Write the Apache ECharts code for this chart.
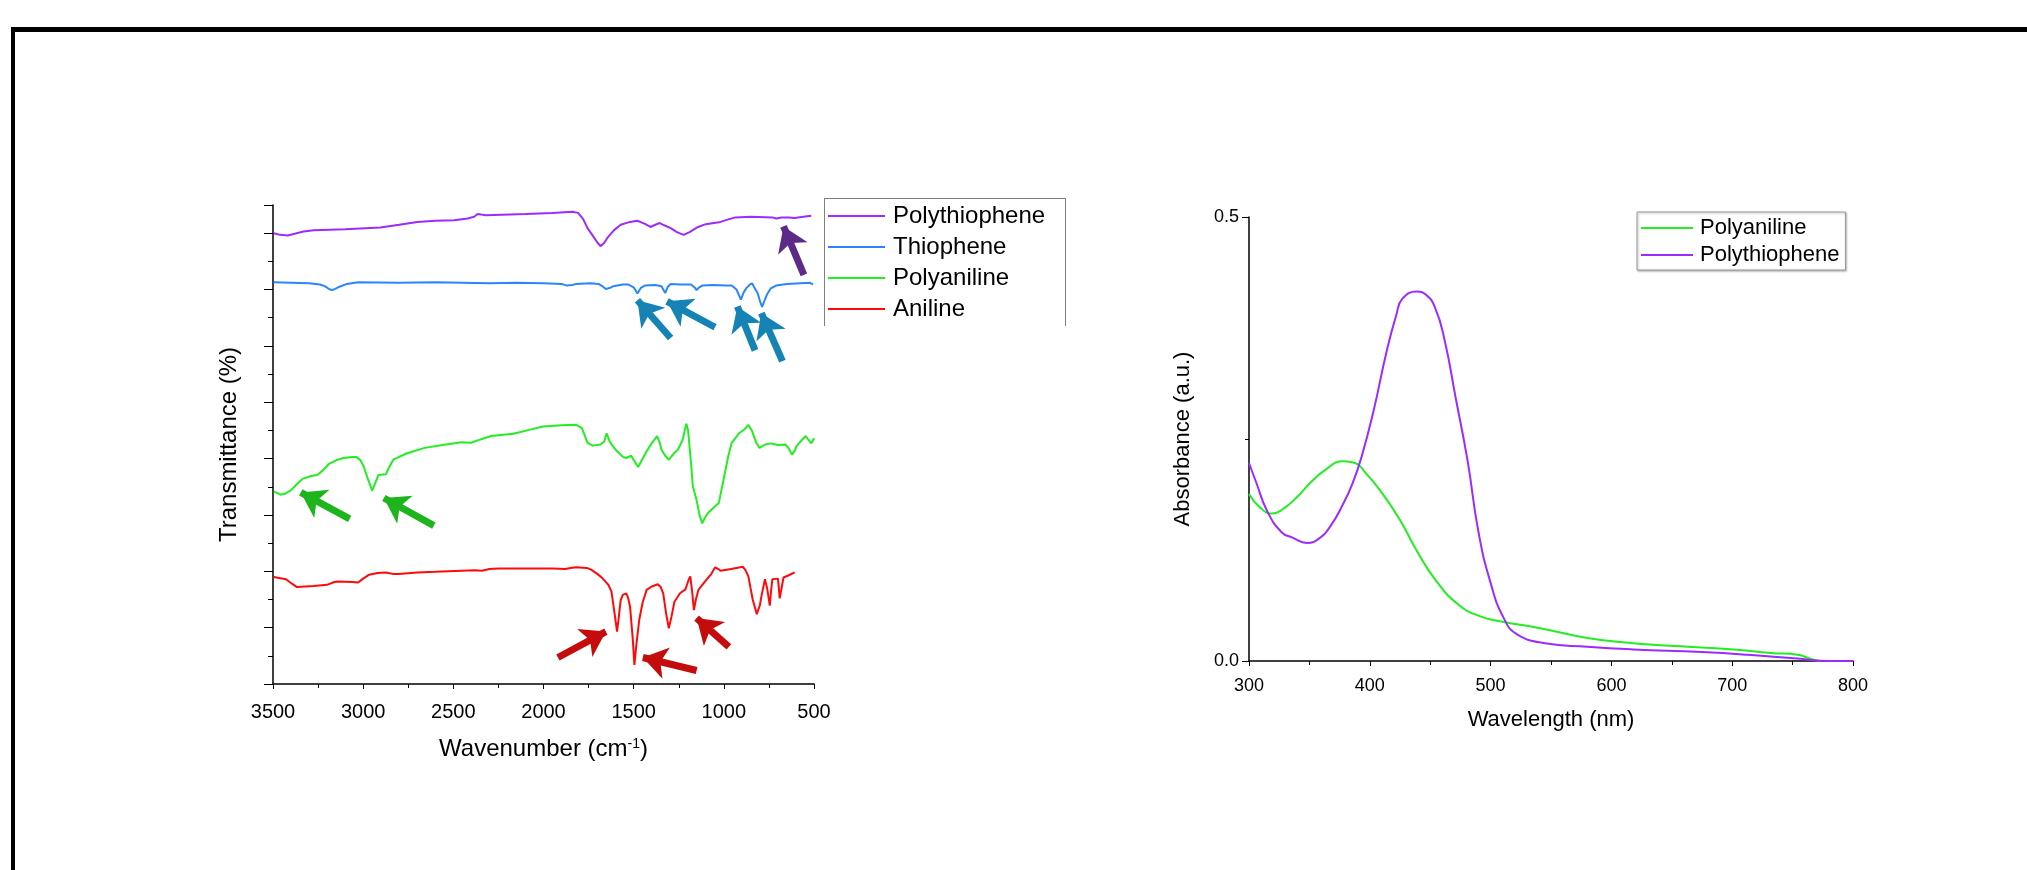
<!DOCTYPE html>
<html>
<head>
<meta charset="utf-8">
<title>FTIR and UV-Vis spectra</title>
<script src="https://cdn.jsdelivr.net/npm/echarts@6/dist/echarts.min.js"></script>
<style>
  body { margin: 0; background: #fff; }
  #frame { position: absolute; left: 11px; top: 27px; width: 2016px; height: 843px; border-top: 5px solid #000; border-left: 4px solid #000; box-sizing: border-box; }
  #chart { position: absolute; left: 0; top: 0; width: 2027px; height: 870px; }
  #irBox { position: absolute; left: 824px; top: 198px; width: 242px; height: 128px; border: 1px solid #808080; border-bottom: none; box-sizing: border-box; }
</style>
</head>
<body>
<div id="frame"></div>
<div id="chart"></div>
<div id="irBox"></div>
<script>
// FTIR spectra: [wavenumber (cm-1), transmittance offset units]
let polythiopheneIR = [[3496,8.00],[3460,7.97],[3418,7.96],[3380,7.99],[3330,8.03],[3274,8.05],[3100,8.07],[2905,8.10],[2800,8.15],[2700,8.20],[2600,8.22],[2495,8.23],[2420,8.26],[2385,8.29],[2365,8.34],[2345,8.33],[2320,8.32],[2100,8.34],[1950,8.36],[1840,8.38],[1808,8.36],[1780,8.25],[1756,8.09],[1730,7.97],[1700,7.83],[1684,7.77],[1665,7.82],[1645,7.92],[1610,8.05],[1572,8.15],[1520,8.20],[1480,8.22],[1440,8.17],[1407,8.11],[1380,8.15],[1356,8.18],[1330,8.14],[1295,8.09],[1260,8.02],[1223,7.97],[1190,8.02],[1150,8.10],[1100,8.16],[1018,8.20],[980,8.24],[936,8.28],[850,8.29],[730,8.28],[710,8.26],[680,8.28],[640,8.28],[607,8.27],[560,8.29],[515,8.31]];

let thiopheneIR = [[3496,7.13],[3400,7.12],[3300,7.11],[3240,7.09],[3213,7.06],[3185,7.00],[3172,6.99],[3150,7.02],[3131,7.05],[3090,7.10],[3028,7.13],[2800,7.12],[2600,7.13],[2454,7.12],[2300,7.11],[2150,7.12],[2000,7.11],[1900,7.10],[1870,7.07],[1859,7.06],[1840,7.08],[1818,7.10],[1740,7.11],[1695,7.10],[1670,7.05],[1654,7.01],[1630,7.03],[1613,7.06],[1560,7.09],[1531,7.09],[1500,7.04],[1479,6.93],[1460,7.03],[1438,7.07],[1380,7.08],[1346,7.06],[1325,6.94],[1310,7.05],[1295,7.10],[1240,7.09],[1182,7.09],[1160,7.03],[1151,6.99],[1140,7.03],[1120,7.07],[1060,7.08],[990,7.07],[956,7.07],[930,7.00],[905,6.82],[890,6.95],[874,7.03],[855,7.09],[843,7.11],[830,7.03],[813,6.94],[800,6.80],[788,6.69],[775,6.80],[761,6.91],[740,7.02],[710,7.07],[650,7.10],[525,7.12],[505,7.09]];

let polyanilineIR = [[3496,3.42],[3459,3.36],[3430,3.38],[3397,3.45],[3360,3.57],[3336,3.64],[3290,3.69],[3254,3.71],[3220,3.80],[3192,3.90],[3150,3.97],[3110,4.01],[3060,4.03],[3038,4.03],[3015,3.97],[2997,3.86],[2975,3.65],[2950,3.43],[2935,3.55],[2915,3.71],[2874,3.72],[2855,3.85],[2833,3.98],[2760,4.09],[2659,4.19],[2560,4.24],[2454,4.29],[2402,4.28],[2350,4.34],[2290,4.40],[2167,4.44],[2080,4.51],[2002,4.57],[1900,4.59],[1818,4.60],[1787,4.54],[1770,4.40],[1756,4.28],[1726,4.23],[1685,4.25],[1664,4.30],[1650,4.45],[1643,4.48],[1633,4.30],[1610,4.20],[1592,4.13],[1560,4.03],[1541,4.01],[1514,4.05],[1495,3.95],[1475,3.85],[1450,4.00],[1428,4.13],[1400,4.27],[1370,4.40],[1355,4.28],[1346,4.16],[1325,4.05],[1305,3.98],[1280,4.08],[1254,4.16],[1229,4.33],[1208,4.62],[1198,4.50],[1192,4.28],[1180,3.85],[1172,3.51],[1150,3.25],[1135,3.00],[1120,2.85],[1105,2.95],[1089,3.03],[1060,3.12],[1028,3.21],[1000,3.65],[975,4.05],[956,4.28],[915,4.45],[885,4.52],[864,4.60],[845,4.50],[820,4.28],[802,4.19],[770,4.25],[741,4.27],[700,4.24],[659,4.25],[640,4.18],[622,4.07],[605,4.15],[597,4.22],[570,4.32],[546,4.40],[530,4.33],[515,4.27],[499,4.36]];

let anilineIR = [[3496,1.90],[3428,1.86],[3395,1.78],[3367,1.72],[3320,1.73],[3274,1.74],[3200,1.76],[3160,1.81],[3141,1.82],[3060,1.81],[3028,1.80],[3000,1.87],[2967,1.94],[2920,1.97],[2874,1.98],[2830,1.95],[2803,1.95],[2700,1.98],[2600,1.99],[2454,2.01],[2380,2.02],[2341,2.01],[2300,2.04],[2249,2.05],[2100,2.05],[1950,2.05],[1879,2.04],[1850,2.06],[1818,2.07],[1760,2.06],[1736,2.03],[1700,1.95],[1674,1.88],[1640,1.76],[1623,1.64],[1608,1.30],[1592,0.93],[1582,1.20],[1572,1.49],[1560,1.58],[1541,1.61],[1530,1.52],[1520,1.37],[1505,0.80],[1496,0.34],[1485,0.70],[1469,1.14],[1450,1.45],[1428,1.67],[1400,1.73],[1366,1.77],[1350,1.72],[1336,1.61],[1320,1.25],[1305,0.99],[1290,1.20],[1274,1.46],[1243,1.61],[1213,1.68],[1195,1.85],[1186,1.91],[1176,1.65],[1166,1.31],[1155,1.50],[1141,1.67],[1104,1.82],[1070,1.95],[1048,2.07],[1030,2.04],[1018,2.01],[960,2.04],[894,2.08],[880,2.02],[864,1.91],[840,1.50],[817,1.24],[800,1.40],[792,1.55],[772,1.86],[760,1.70],[745,1.39],[738,1.65],[731,1.86],[700,1.87],[695,1.70],[690,1.52],[680,1.70],[669,1.89],[640,1.93],[607,1.98]];

// arrows on the FTIR plot: [tail x, tail y, head x, head y]
let purpleArrows = [[556, 7.26, 669, 8.12]];
let blueArrows = [[1295, 6.14, 1479, 6.81], [1049, 6.33, 1315, 6.79], [827, 5.92, 925, 6.70], [675, 5.73, 792, 6.58]];
let greenArrows = [[3075, 2.93, 3346, 3.40], [2608, 2.81, 2885, 3.30]];
let redArrows = [[1920, 0.47, 1654, 0.93], [1151, 0.24, 1449, 0.47], [972, 0.66, 1151, 1.17]];

// UV-Vis spectra: [wavelength (nm), absorbance]
let polyanilineUV = [[300,0.188],[309,0.173],[319,0.166],[328,0.171],[340,0.185],[351,0.201],[363,0.215],[378,0.225],[388,0.223],[397,0.211],[408,0.193],[424,0.161],[439,0.124],[454,0.092],[473,0.064],[492,0.050],[511,0.044],[541,0.037],[580,0.026],[618,0.020],[637,0.018],[663,0.016],[701,0.013],[732,0.009],[754,0.007],[766,0.002],[773,0]];
let polythiopheneUV = [[300,0.223],[306,0.201],[315,0.169],[327,0.145],[336,0.139],[348,0.133],[357,0.137],[367,0.151],[378,0.177],[386,0.201],[393,0.229],[403,0.281],[414,0.349],[422,0.390],[427,0.408],[439,0.416],[446,0.413],[454,0.398],[462,0.361],[471,0.297],[481,0.225],[490,0.145],[500,0.088],[511,0.048],[522,0.030],[545,0.020],[580,0.016],[618,0.013],[675,0.010],[713,0.007],[751,0.003],[781,0],[800,0]];

let irLegend = ['Polythiophene', 'Thiophene', 'Polyaniline', 'Aniline'];
let uvLegend = ['Polyaniline', 'Polythiophene'];

const FONT = 'Liberation Sans, Arial, sans-serif';
const PURPLE = '#9b2bff', BLUE = '#2a86ff', GREEN = '#22ee22', RED = '#ff0a0a';

function arrowLines(list, color) {
    return {
        silent: true,
        symbol: ['none', 'arrow'],
        symbolSize: [24, 24],
        label: { show: false },
        lineStyle: { color: color, width: 7, type: 'solid', opacity: 1 },
        emphasis: { disabled: true },
        data: list.map(a => [{ coord: [a[0], a[1]] }, { coord: [a[2], a[3]] }])
    };
}

function lineSeries(name, data, color, axis, extra) {
    let s = {
        name: name,
        type: 'line',
        xAxisIndex: axis,
        yAxisIndex: axis,
        data: data,
        showSymbol: false,
        symbol: 'none',
        color: color,
        lineStyle: { color: color, width: 2 },
        emphasis: { disabled: true }
    };
    return Object.assign(s, extra || {});
}

var dom = document.getElementById('chart');
var myChart = echarts.init(dom);

var axisLine = { show: true, lineStyle: { color: '#000', width: 1.5 } };

var option = {
    animation: false,
    textStyle: { fontFamily: FONT },
    grid: [
        { left: 273, top: 205, width: 541, height: 479 },
        { left: 1249, top: 217, width: 604, height: 444 }
    ],
    legend: [
        {
            data: irLegend, orient: 'vertical', left: 828, top: 204, padding: 0,
            icon: 'rect', itemWidth: 57, itemHeight: 2, itemGap: 7, selectedMode: false,
            textStyle: { fontSize: 24, color: '#000', fontFamily: FONT, padding: [0, 0, 0, 3] }
        },
        {
            data: uvLegend, orient: 'vertical', left: 1637, top: 212, padding: [5, 6, 4, 4],
            icon: 'rect', itemWidth: 52, itemHeight: 2, itemGap: 5, selectedMode: false,
            backgroundColor: '#fff', borderColor: '#999', borderWidth: 1,
            shadowColor: 'rgba(0,0,0,0.3)', shadowBlur: 2, shadowOffsetX: 1, shadowOffsetY: 1,
            textStyle: { fontSize: 22, color: '#000', fontFamily: FONT, padding: [0, 0, 0, 2] }
        }
    ],
    xAxis: [
        {
            gridIndex: 0, type: 'value', min: 500, max: 3500, interval: 500, inverse: true,
            axisLine: axisLine,
            axisTick: { length: 5, lineStyle: { color: '#000' } },
            minorTick: { show: true, splitNumber: 2, length: 4, lineStyle: { color: '#000' } },
            splitLine: { show: false },
            axisLabel: { fontSize: 20, color: '#000', margin: 18, fontFamily: FONT, formatter: v => String(v) },
            name: '{t|Wavenumber (cm}{s|-1}{t|)}',
            nameLocation: 'middle', nameGap: 53,
            nameTextStyle: {
                rich: {
                    t: { fontSize: 24, color: '#000', fontFamily: FONT, verticalAlign: 'bottom' },
                    s: { fontSize: 14, color: '#000', fontFamily: FONT, verticalAlign: 'top' }
                }
            }
        },
        {
            gridIndex: 1, type: 'value', min: 300, max: 800, interval: 100,
            axisLine: axisLine,
            axisTick: { length: 5, lineStyle: { color: '#000' } },
            minorTick: { show: true, splitNumber: 2, length: 4, lineStyle: { color: '#000' } },
            splitLine: { show: false },
            axisLabel: { fontSize: 18, color: '#000', margin: 16, fontFamily: FONT, formatter: v => String(v) },
            name: 'Wavelength (nm)', nameLocation: 'middle', nameGap: 48,
            nameTextStyle: { fontSize: 22, color: '#000', fontFamily: FONT }
        }
    ],
    yAxis: [
        {
            gridIndex: 0, type: 'value', min: 0, max: 8.5, interval: 1,
            axisLine: axisLine,
            axisTick: { length: 9, lineStyle: { color: '#000' } },
            minorTick: { show: true, splitNumber: 2, length: 5, lineStyle: { color: '#000' } },
            splitLine: { show: false },
            axisLabel: { show: false },
            name: 'Transmittance (%)', nameLocation: 'middle', nameGap: 32,
            nameTextStyle: { fontSize: 24, color: '#000', fontFamily: FONT }
        },
        {
            gridIndex: 1, type: 'value', min: 0, max: 0.5, interval: 0.5,
            axisLine: axisLine,
            axisTick: { length: 7, lineStyle: { color: '#000' } },
            minorTick: { show: true, splitNumber: 2, length: 4, lineStyle: { color: '#000' } },
            splitLine: { show: false },
            axisLabel: { fontSize: 18, color: '#000', margin: 10, fontFamily: FONT, formatter: v => v.toFixed(1) },
            name: 'Absorbance (a.u.)', nameLocation: 'middle', nameGap: 55,
            nameTextStyle: { fontSize: 22, color: '#000', fontFamily: FONT }
        }
    ],
    series: [
        lineSeries('Polythiophene', polythiopheneIR, PURPLE, 0, { markLine: arrowLines(purpleArrows, '#5b2b87') }),
        lineSeries('Thiophene', thiopheneIR, BLUE, 0, { markLine: arrowLines(blueArrows, '#1683b5') }),
        lineSeries('Polyaniline', polyanilineIR, GREEN, 0, { markLine: arrowLines(greenArrows, '#1db41d') }),
        lineSeries('Aniline', anilineIR, RED, 0, { markLine: arrowLines(redArrows, '#c40c0c') }),
        lineSeries('Polyaniline', polyanilineUV, GREEN, 1, { smooth: 0.5 }),
        lineSeries('Polythiophene', polythiopheneUV, PURPLE, 1, { smooth: 0.5 })
    ]
};

if (option && typeof option === 'object') {
    myChart.setOption(option);
}
</script>
</body>
</html>
